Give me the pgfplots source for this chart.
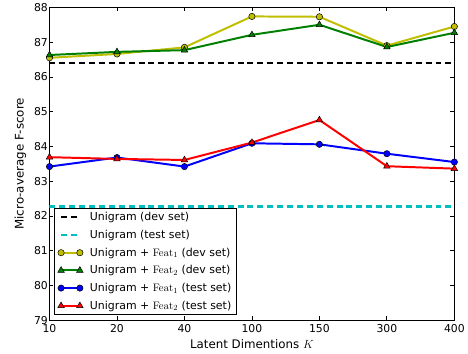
\documentclass[border=0pt]{standalone}
\usepackage[no-math]{fontspec}
\setmainfont{DejaVu Sans}
\usepackage{pgfplots}
\pgfplotsset{compat=1.18}
\definecolor{myyellow}{rgb}{0.75,0.75,0}
\definecolor{mygreen}{rgb}{0,0.5,0}
\definecolor{mycyan}{rgb}{0,0.75,0.75}
\pgfplotstableread{
x dY dG tB tR
0 86.55 86.63 83.42 83.69
1 86.66 86.72 83.68 83.64
2 86.85 86.77 83.42 83.61
3 87.74 87.21 84.09 84.11
4 87.73 87.50 84.06 84.76
5 86.90 86.86 83.79 83.43
6 87.45 87.27 83.55 83.36
}\datatable
\begin{document}
\begin{tikzpicture}
\begin{axis}[
  scale only axis, width=409bp, height=316bp,
  xmin=0, xmax=6, ymin=79, ymax=88,
  xtick={0,...,6}, xticklabels={10,20,40,100,150,300,400},
  ytick={79,...,88},
  tick align=inside, tick pos=both, major tick length=4bp,
  axis line style={line width=0.9pt},
  every tick/.style={black, line width=0.8pt},
  /pgf/number format/assume math mode=true,
  tick label style={font=\fontsize{11}{13}\selectfont},
  yticklabel style={inner xsep=1.5bp},
  xticklabel style={inner ysep=4bp},
  label style={font=\fontsize{12}{14}\selectfont},
  xlabel={Latent Dimentions $K$},
  ylabel={Micro-average F-score},
  xlabel style={at={(axis description cs:0.5,0)}, anchor=base, yshift=-29bp, inner sep=0pt},
  ylabel style={at={(axis description cs:-0.0636,0.5)}, anchor=base, inner sep=0pt},
  legend style={at={(0,0)}, anchor=south west, xshift=5bp, yshift=5bp,
    font=\fontsize{11.1}{12}\selectfont, draw=black, line width=0.8pt,
    row sep=4bp, inner xsep=3bp, inner ysep=2.2bp},
  legend cell align=left,
  legend image code/.code={\draw[#1] plot coordinates {(0bp,0bp) (19bp,0bp)}; \path (26bp,0bp);},
]
\addplot[black, line width=2bp, dash pattern=on 6bp off 4bp, no marks] coordinates {(0,86.4) (6,86.4)};
\addlegendentry{Unigram (dev set)}
\addplot[mycyan, line width=2.2bp, dash pattern=on 6bp off 4bp, no marks] coordinates {(0,82.27) (6,82.27)};
\addlegendentry{Unigram (test set)}
\addplot[myyellow, line width=2bp, mark=*, mark size=3.2bp, mark options={fill=myyellow, draw=black, line width=0.5pt, solid}] table[x=x, y=dY] {\datatable};
\addlegendentry{Unigram + $\mathrm{Feat}_1$ (dev set)}
\addplot[mygreen, line width=2bp, mark=triangle*, mark size=3.8bp, mark options={fill=mygreen, draw=black, line width=0.5pt, solid}] table[x=x, y=dG] {\datatable};
\addlegendentry{Unigram + $\mathrm{Feat}_2$ (dev set)}
\addplot[blue, line width=2bp, mark=*, mark size=3.2bp, mark options={fill=blue, draw=black, line width=0.5pt, solid}] table[x=x, y=tB] {\datatable};
\addlegendentry{Unigram + $\mathrm{Feat}_1$ (test set)}
\addplot[red, line width=2bp, mark=triangle*, mark size=3.8bp, mark options={fill=red, draw=black, line width=0.5pt, solid}] table[x=x, y=tR] {\datatable};
\addlegendentry{Unigram + $\mathrm{Feat}_2$ (test set)}
\end{axis}
\useasboundingbox ([shift={(-50bp,-34bp)}]current axis.south west) rectangle ([shift={(9bp,5bp)}]current axis.north east);
\end{tikzpicture}
\end{document}
